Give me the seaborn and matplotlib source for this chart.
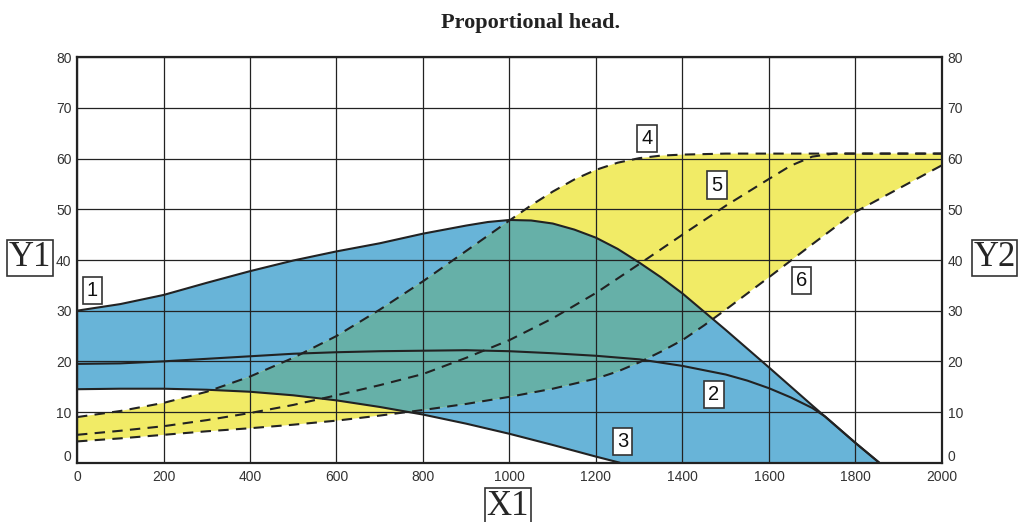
import numpy as np
import pandas as pd
import matplotlib
matplotlib.use("Agg")
import matplotlib.pyplot as plt
import matplotlib.transforms as mtransforms
import seaborn as sns

# curve values (x = flow, y = head)
x_c1 = [0, 100, 200, 300, 400, 500, 600, 700, 800, 900, 950, 1000, 1050, 1100, 1150, 1200, 1250, 1300, 1350, 1400, 1500, 1600, 1700, 1800, 1855]
y_c1 = [30, 31.3, 33.1, 35.5, 37.8, 39.9, 41.7, 43.3, 45.2, 46.8, 47.5, 47.9, 47.8, 47.2, 46.0, 44.4, 42.2, 39.5, 36.6, 33.4, 26.2, 18.8, 11.3, 3.9, 0]

x_c2 = [0, 100, 200, 300, 400, 500, 600, 700, 800, 900, 1000, 1100, 1200, 1300, 1400, 1500, 1550, 1600, 1650, 1700, 1730, 1800, 1855]
y_c2 = [19.5, 19.6, 20.0, 20.5, 21.0, 21.5, 21.8, 22.0, 22.1, 22.2, 22.0, 21.6, 21.1, 20.4, 19.1, 17.4, 16.2, 14.7, 12.9, 10.8, 9.1, 3.9, 0]

x_c3 = [0, 100, 200, 300, 400, 500, 600, 700, 800, 900, 1000, 1100, 1200, 1255]
y_c3 = [14.5, 14.6, 14.6, 14.4, 14.0, 13.3, 12.3, 11.0, 9.5, 7.7, 5.7, 3.5, 1.2, 0]

x_c4 = [0, 100, 200, 300, 400, 500, 600, 700, 800, 900, 1000, 1050, 1100, 1150, 1200, 1250, 1300, 1350, 1400, 1500, 2000]
y_c4 = [9, 10.2, 11.8, 14, 17, 20.7, 25, 30.2, 35.8, 41.8, 47.8, 50.8, 53.5, 55.9, 57.8, 59.2, 60.1, 60.6, 60.8, 61, 61]

x_c5 = [0, 100, 200, 300, 400, 500, 600, 700, 800, 900, 1000, 1100, 1200, 1300, 1400, 1500, 1600, 1650, 1700, 1750, 2000]
y_c5 = [5.5, 6.3, 7.2, 8.4, 9.8, 11.4, 13.3, 15.3, 17.5, 20.7, 24.2, 28.5, 33.5, 39.2, 45, 50.7, 56, 58.6, 60.4, 61, 61]

x_c6 = [0, 100, 200, 300, 400, 500, 600, 700, 800, 900, 1000, 1100, 1200, 1250, 1300, 1350, 1400, 1450, 1500, 1600, 1700, 1800, 1900, 2000]
y_c6 = [4.2, 4.8, 5.5, 6.2, 6.8, 7.5, 8.3, 9.3, 10.4, 11.6, 13.0, 14.6, 16.6, 18.0, 19.8, 21.9, 24.2, 27.1, 30.2, 36.6, 43.1, 49.5, 54.1, 58.7]

labels = ["1", "2", "3", "4", "5", "6"]
label_x = [35, 1473, 1262, 1318, 1480, 1676]
label_y = [33.9, 13.5, 4.1, 64, 54.8, 36]

x_ticks = list(range(0, 2001, 200))
y_ticks = list(range(0, 81, 10))

blue = "#68b4d8"
yellow = "#f1eb66"
teal = "#66b0a8"
ink = "#222222"

sns.set_style("white")
plt.rcParams['font.family'] = ['Liberation Sans', 'DejaVu Sans']

fig = plt.figure(figsize=(10.2, 5.22), dpi=100)
ax = fig.add_axes([0.0755, 0.1136, 0.848, 0.7766])

# blue area between curve 1 and curve 3
blue_x = x_c1 + x_c3[::-1]
blue_y = y_c1 + y_c3[::-1]
blue_poly = ax.fill(blue_x, blue_y, color=blue, lw=0, zorder=1)[0]

# yellow area between curve 4 and curve 6, teal where it sits on the blue
yel_x = x_c4 + x_c6[::-1]
yel_y = y_c4 + y_c6[::-1]
ax.fill(yel_x, yel_y, color=yellow, lw=0, zorder=1)
overlap = ax.fill(yel_x, yel_y, color=teal, lw=0, zorder=1.1)[0]
overlap.set_clip_path(blue_poly)

solid = [(x_c1, y_c1), (x_c2, y_c2), (x_c3, y_c3)]
dashed = [(x_c4, y_c4), (x_c5, y_c5), (x_c6, y_c6)]
for xs, ys in solid:
    sns.lineplot(x=xs, y=ys, ax=ax, color=ink, lw=1.5, sort=False, estimator=None, zorder=3)
for xs, ys in dashed:
    sns.lineplot(x=xs, y=ys, ax=ax, color=ink, lw=1.5, sort=False, estimator=None,
                 linestyle=(0, (5, 3.5)), zorder=3)

ax.set_xlim(0, 2000)
ax.set_ylim(0, 80)
ax.set_xticks(x_ticks)
ax.set_yticks(y_ticks)
ax.grid(True, color=ink, lw=0.9)
ax.set_axisbelow(False)
for sp in ax.spines.values():
    sp.set_color(ink)
    sp.set_linewidth(1.6)
ax.tick_params(axis="both", length=0, labelsize=10, labelcolor="#333333", pad=4)
ax.tick_params(axis="x", pad=5)
ax.tick_params(axis="y", labelright=True, right=False)

# the two "0" labels sit a little above the axis line, as in the original
lift = mtransforms.ScaledTranslation(0, 5 / 72, fig.dpi_scale_trans)
zero_tick = ax.yaxis.get_major_ticks()[0]
for lab in (zero_tick.label1, zero_tick.label2):
    lab.set_transform(lab.get_transform() + lift)

for t, lx, ly in zip(labels, label_x, label_y):
    ax.text(lx, ly, t, ha="center", va="center", fontsize=14.5, color="#111111", zorder=5,
            bbox=dict(boxstyle="square,pad=0.2", fc="white", ec="#333333", lw=1.2))

box = dict(boxstyle="square,pad=0.05", fc="white", ec="#333333", lw=1.2)
fig.text(0.029, 0.506, "Y1", ha="center", va="center", fontsize=25, family="Liberation Serif", bbox=box)
fig.text(0.975, 0.506, "Y2", ha="center", va="center", fontsize=25, family="Liberation Serif", bbox=box)
fig.text(0.498, 0.030, "X1", ha="center", va="center", fontsize=25, family="Liberation Serif", bbox=box)
fig.text(0.52, 0.955, "Proportional head.", ha="center", va="center", fontsize=16,
         fontweight="bold", family="Liberation Serif", color="#222222")

fig.savefig("out.png", dpi=100)
